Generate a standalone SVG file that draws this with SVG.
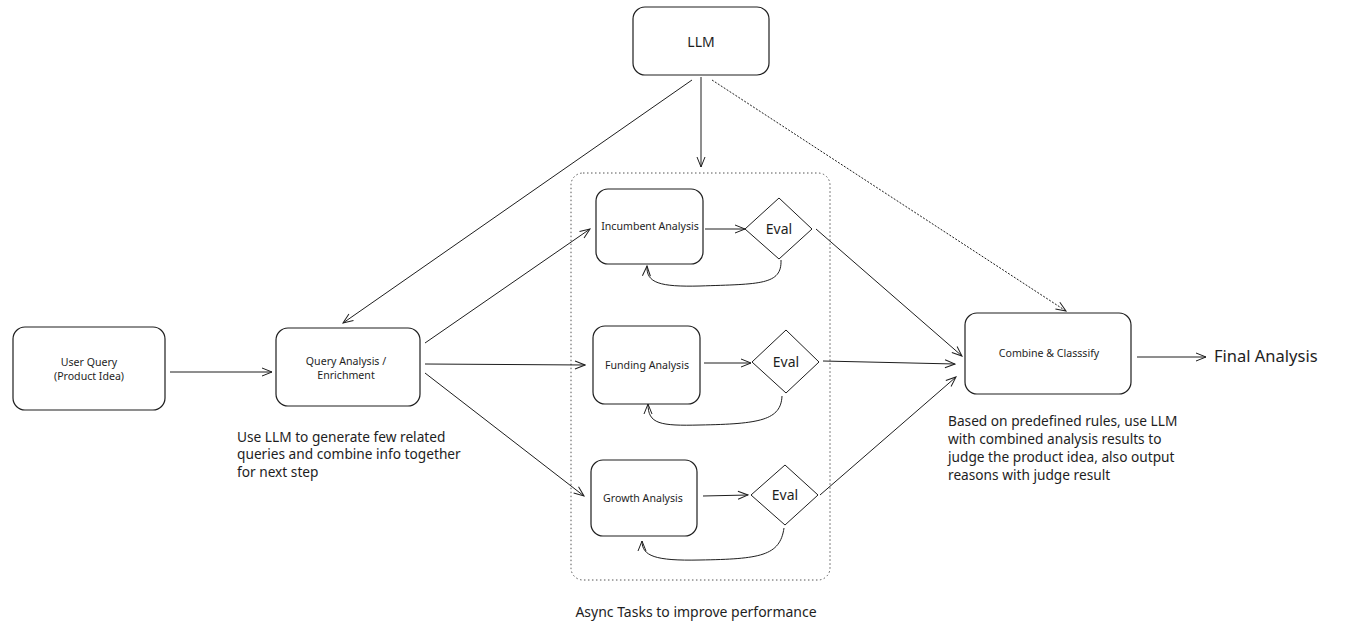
<svg xmlns="http://www.w3.org/2000/svg" width="1349" height="635" viewBox="0 0 1349 635">
<defs>
<marker id="arr" markerWidth="12" markerHeight="10" refX="11" refY="5" orient="auto" markerUnits="userSpaceOnUse">
<path d="M1,1 L11,5 L1,9" fill="none" stroke="#1e1e1e" stroke-width="1"/>
</marker>
</defs>
<style>
.box{fill:#fff;stroke:#1e1e1e;stroke-width:1.2}
.dia{fill:#fff;stroke:#1e1e1e;stroke-width:1}
.t{font-family:"Noto Sans","Open Sans",sans-serif;fill:#1e1e1e;text-anchor:middle}
.s{font-size:10.6px}
.m{font-size:14px}
.c{font-family:"Noto Sans","Open Sans",sans-serif;fill:#1e1e1e;font-size:13.7px}
.e{fill:none;stroke:#1e1e1e;stroke-width:1;marker-end:url(#arr)}
.dot{fill:none;stroke:#555;stroke-width:1;stroke-dasharray:1.5 2.5}
</style>
<rect width="1349" height="635" fill="#fff"/>
<g id="container">
<rect x="571" y="173" width="259" height="407" rx="12" class="dot"/>
<text x="696" y="617" class="c" text-anchor="middle" style="font-size:14px">Async Tasks to improve performance</text>
</g>
<g id="connectors">
<path class="e" d="M170,372 L272,372"/>
<path class="e" d="M692,80 L343,323"/>
<path class="e" d="M701,77 L701,167"/>
<path class="e" d="M712,80 L1066,311" stroke-dasharray="2 1.5"/>
<path class="e" d="M425,343 L590,229"/>
<path class="e" d="M425,364 L585,365"/>
<path class="e" d="M425,373 L584,496"/>
<path class="e" d="M705,229 L745,229"/>
<path class="e" d="M704,363 L751,363"/>
<path class="e" d="M703,496 L748,495"/>
<path class="e" d="M816,229 L962,356"/>
<path class="e" d="M823,361 L955,364"/>
<path class="e" d="M820,495 L956,377"/>
<path class="e" d="M1137,357 L1206,357"/>
<path class="e" d="M781,260 C782,285 760,284 700,286 C660,287 646,283 647,266"/>
<path class="e" d="M782,396 C781,420 760,424 700,425 C660,426 648,424 648,404"/>
<path class="e" d="M784,528 C780,556 760,559 700,560 C655,561 642,556 642,541"/>
</g>
<g id="llm">
<rect x="633" y="7" width="136" height="68" rx="12" class="box"/>
<text x="701" y="47" class="t m">LLM</text>
</g>
<g id="user-query">
<rect x="13" y="327" width="152" height="83" rx="12" class="box"/>
<text x="89" y="366" class="t s">User Query</text>
<text x="89" y="380" class="t s">(Product Idea)</text>
</g>
<g id="query-analysis">
<rect x="276" y="328" width="144" height="78" rx="12" class="box"/>
<text x="346" y="365" class="t s">Query Analysis /</text>
<text x="346" y="379" class="t s">Enrichment</text>
<text x="237" y="442" class="c">Use LLM to generate few related</text>
<text x="237" y="459" class="c">queries and combine info together</text>
<text x="237" y="477" class="c">for next step</text>
</g>
<g id="incumbent">
<rect x="596" y="189" width="107" height="75" rx="12" class="box"/>
<text x="650" y="230" class="t s">Incumbent Analysis</text>
</g>
<g id="eval1">
<path d="M745,229 L779,198 L812,229 L779,259 Z" class="dia" stroke-linejoin="round"/>
<text x="779" y="234" class="t m">Eval</text>
</g>
<g id="funding">
<rect x="593" y="326" width="107" height="78" rx="12" class="box"/>
<text x="647" y="369" class="t s">Funding Analysis</text>
</g>
<g id="eval2">
<path d="M752,362 L786,330 L819,362 L786,393 Z" class="dia" stroke-linejoin="round"/>
<text x="786" y="367" class="t m">Eval</text>
</g>
<g id="growth">
<rect x="591" y="460" width="106" height="76" rx="12" class="box"/>
<text x="643" y="502" class="t s">Growth Analysis</text>
</g>
<g id="eval3">
<path d="M751,495 L785,465 L818,495 L785,525 Z" class="dia" stroke-linejoin="round"/>
<text x="785" y="500" class="t m">Eval</text>
</g>
<g id="combine">
<rect x="965" y="313" width="166" height="81" rx="12" class="box"/>
<text x="1049" y="357" class="t s">Combine &amp; Classsify</text>
<text x="948" y="426" class="c">Based on predefined rules, use LLM</text>
<text x="948" y="444" class="c">with combined analysis results to</text>
<text x="948" y="462" class="c">judge the product idea, also output</text>
<text x="948" y="480" class="c">reasons with judge result</text>
</g>
<g id="final">
<text x="1214" y="362" class="c" style="font-size:16.5px">Final Analysis</text>
</g>
</svg>
